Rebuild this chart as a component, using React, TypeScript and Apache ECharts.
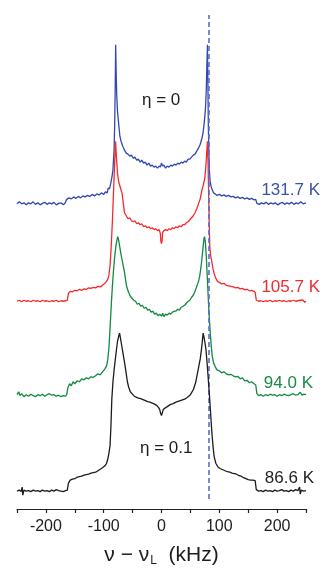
import React, { useEffect, useRef } from "react";
import * as echarts from "echarts";

// x in kHz, intensity relative to each trace's own baseline (arbitrary units)
const blueSpectrum: number[][] = [
[-250,0.0],[-246,0.2],[-242,0.0],[-238,0.1],[-234,-0.1],[-230,0.1],[-226,0.0],[-222,0.2],[-218,-0.05],[-214,0.1],[-210,-0.1],[-206,0.05],[-202,0.15],[-198,-0.05],[-194,0.1],[-190,0.0],[-186,0.15],[-182,-0.1],[-178,0.05],[-174,0.1],[-170,-0.1],[-167,0.05],[-164,0.45],[-160,0.6],[-156,0.5],[-152,0.7],[-148,0.55],[-144,0.75],[-140,0.6],[-136,0.8],[-132,0.7],[-128,0.85],[-124,0.75],[-120,0.95],[-116,0.8],[-112,1.0],[-108,0.9],[-104,1.1],[-100,0.95],[-97,1.2],[-94,1.1],[-92,1.6],[-90,1.5],[-88,2.0],[-86,2.6],[-84,3.4],[-82,5.5],[-81,8],[-80,12],[-79.3,16.0],[-78.5,13.5],[-77.5,11],[-76,9.2],[-74,8.0],[-72,6.8],[-70,6.3],[-67,5.8],[-64,5.4],[-61,5.1],[-58,5.0],[-55,4.8],[-52,4.9],[-49,4.6],[-46,4.7],[-43,4.4],[-40,4.5],[-37,4.2],[-34,4.4],[-31,4.1],[-28,4.2],[-25,3.9],[-22,4.1],[-19,3.8],[-16,3.9],[-13,3.7],[-10,3.8],[-7,3.6],[-4,3.8],[-2,3.7],[0,4.1],[2,3.8],[4,3.9],[7,3.6],[10,3.8],[13,3.7],[16,3.9],[19,3.8],[22,4.0],[25,3.9],[28,4.1],[31,4.0],[34,4.2],[37,4.1],[40,4.3],[43,4.2],[46,4.5],[49,4.5],[52,4.7],[55,4.9],[58,5.0],[61,5.3],[64,5.6],[67,6.0],[70,6.6],[72,7.2],[74,8.2],[76,9.5],[77.5,11.5],[78.5,14],[79.5,16.0],[80.3,12],[81,8],[82,5],[83,3.2],[84,2.3],[86,1.7],[88,1.4],[90,1.1],[93,1.0],[96,0.85],[100,0.95],[104,0.8],[108,0.9],[112,0.75],[116,0.85],[120,0.7],[124,0.75],[128,0.6],[132,0.7],[136,0.55],[140,0.65],[144,0.5],[148,0.6],[152,0.45],[156,0.55],[160,0.4],[163,0.45],[165,0.05],[169,-0.05],[173,0.1],[177,0.0],[181,0.15],[185,-0.05],[189,0.1],[193,0.0],[197,0.1],[201,-0.1],[205,0.05],[209,0.15],[213,-0.05],[217,0.1],[221,0.0],[225,0.15],[229,-0.05],[233,0.1],[237,0.0],[241,0.2],[245,0.0],[250,0.1]
];

const redSpectrum: number[][] = [
[-250,0],[-246,0.1],[-242,-0.05],[-238,0.1],[-234,0.0],[-230,0.05],[-226,-0.05],[-222,0.1],[-218,0.0],[-214,0.05],[-210,-0.05],[-206,0.1],[-202,0.0],[-198,0.05],[-194,-0.05],[-190,0.05],[-186,0.0],[-182,0.1],[-178,-0.05],[-174,0.05],[-170,0.0],[-166,0.05],[-163,0.1],[-161,0.8],[-158,1.0],[-154,0.95],[-150,1.1],[-146,1.05],[-142,1.2],[-138,1.1],[-134,1.25],[-130,1.2],[-126,1.35],[-122,1.3],[-118,1.4],[-114,1.35],[-110,1.5],[-106,1.45],[-102,1.6],[-98,1.8],[-95,2.0],[-93,2.2],[-91,2.6],[-89,3.6],[-87,5.5],[-85,8],[-83,11],[-81,14],[-79.5,16.1],[-78,14.5],[-76,12.8],[-74,12],[-72,11.6],[-70,11.2],[-68,10.8],[-66,9.8],[-64,8.9],[-61,8.6],[-58,8.3],[-55,8.4],[-52,8.1],[-49,8.0],[-46,8.1],[-43,7.8],[-40,7.9],[-37,7.7],[-34,7.8],[-31,7.5],[-28,7.6],[-25,7.4],[-22,7.5],[-19,7.3],[-16,7.4],[-13,7.2],[-10,7.3],[-7,7.1],[-4,7.2],[-2,6.8],[-1,6.0],[0,5.8],[1,6.1],[2,6.9],[4,7.1],[7,7.2],[10,7.1],[13,7.3],[16,7.2],[19,7.4],[22,7.3],[25,7.5],[28,7.4],[31,7.6],[34,7.5],[37,7.7],[40,7.7],[43,7.9],[46,8.0],[49,8.2],[52,8.4],[55,8.6],[58,8.9],[61,9.3],[64,9.8],[67,10.3],[70,11.2],[72,11.6],[75,12.4],[77,13.8],[78.5,15.2],[79.5,16.1],[80.5,14],[81.5,11],[82.5,8],[83.5,5.5],[85,4.6],[87,4.0],[89,3.3],[91,2.8],[94,2.3],[97,2.0],[100,1.9],[104,1.75],[108,1.8],[112,1.6],[116,1.55],[120,1.5],[124,1.45],[128,1.35],[132,1.4],[136,1.25],[140,1.3],[144,1.15],[148,1.2],[152,1.05],[156,1.1],[160,1.0],[162,0.9],[164,0.1],[168,0.0],[172,0.05],[176,-0.05],[180,0.05],[184,0.0],[188,0.1],[192,-0.05],[196,0.05],[200,0.0],[204,0.1],[208,0.0],[212,0.05],[216,-0.05],[220,0.05],[224,0.0],[228,0.1],[232,0.0],[236,0.05],[240,0.1],[244,0.15],[248,-0.1],[250,0.0]
];

const greenSpectrum: number[][] = [
[-250,0.1],[-247,0.4],[-245,0.0],[-242,0.2],[-238,-0.1],[-234,0.1],[-230,-0.05],[-226,0.15],[-222,0.0],[-218,-0.1],[-214,0.1],[-210,0.0],[-206,0.15],[-202,-0.05],[-198,0.1],[-194,0.2],[-190,0.05],[-186,0.1],[-182,-0.05],[-178,0.05],[-174,-0.1],[-170,0.0],[-166,-0.05],[-164,0.1],[-162,0.8],[-159,1.2],[-156,1.0],[-153,1.4],[-150,1.2],[-146,1.5],[-142,1.4],[-138,1.7],[-134,1.6],[-130,1.8],[-126,1.7],[-122,1.9],[-118,1.85],[-114,2.0],[-110,2.2],[-106,2.1],[-102,2.4],[-98,2.7],[-95,3.0],[-93,3.6],[-91,4.8],[-89,6.8],[-87,9.0],[-85,11.0],[-83,12.6],[-81,14.0],[-79,15.0],[-77,15.7],[-75.5,16.0],[-74,15.6],[-72,14.9],[-70,14.2],[-68,13.6],[-66,13.0],[-64,12.4],[-62,11.6],[-60,10.9],[-57,10.4],[-54,10.0],[-51,9.8],[-48,9.6],[-45,9.5],[-42,9.2],[-39,9.3],[-36,9.0],[-33,9.1],[-30,8.8],[-27,8.9],[-24,8.6],[-21,8.7],[-18,8.4],[-15,8.5],[-12,8.2],[-9,8.3],[-6,8.05],[-3,8.2],[0,8.0],[2,8.3],[4,7.95],[7,8.2],[10,8.1],[13,8.3],[16,8.2],[19,8.4],[22,8.5],[25,8.5],[28,8.7],[31,8.6],[34,8.9],[37,9.0],[40,9.1],[43,9.3],[46,9.5],[49,9.6],[52,9.9],[55,10.1],[58,10.5],[61,11.0],[64,11.5],[66,12.0],[68,12.8],[70,13.8],[72,15.0],[73.5,15.8],[74.5,16.0],[76,15.4],[77.5,14],[79,12.2],[80.5,10.3],[82,8.5],[84,6.6],[86,5.0],[88,3.9],[90,3.3],[93,2.9],[96,2.6],[100,2.5],[104,2.3],[108,2.4],[112,2.2],[116,2.1],[120,2.15],[124,2.0],[128,1.9],[132,1.95],[136,1.7],[140,1.8],[144,1.5],[148,1.55],[152,1.3],[156,1.4],[160,1.2],[163,1.1],[165,0.2],[168,0.0],[172,0.1],[176,-0.05],[180,0.1],[184,0.0],[188,0.15],[192,0.05],[196,0.1],[200,-0.05],[204,0.1],[208,0.0],[212,0.15],[216,0.05],[220,0.0],[224,0.1],[228,0.2],[232,0.05],[236,0.1],[240,0.35],[243,0.05],[246,0.15],[250,0.1]
];

const blackSpectrum: number[][] = [
[-250,0.0],[-246,0.1],[-243,-0.05],[-241,0.4],[-240,-0.4],[-238,0.1],[-234,0.0],[-230,0.05],[-226,-0.05],[-222,0.1],[-218,0.0],[-214,0.05],[-210,-0.05],[-206,0.1],[-202,0.0],[-198,0.05],[-194,-0.05],[-190,0.1],[-186,0.0],[-182,0.15],[-178,0.05],[-174,0.0],[-170,-0.05],[-166,0.05],[-163,0.1],[-161,0.8],[-158,1.1],[-154,1.2],[-150,1.25],[-146,1.4],[-142,1.45],[-138,1.5],[-134,1.6],[-130,1.65],[-126,1.7],[-122,1.8],[-118,1.85],[-114,1.9],[-110,2.05],[-106,2.2],[-102,2.35],[-98,2.55],[-95,2.8],[-93,3.2],[-91,3.8],[-89,4.6],[-87.5,6.5],[-86,9.2],[-84,11.0],[-82,12.2],[-80,13.2],[-78,14.2],[-76,15.1],[-74,15.6],[-72.5,15.9],[-71,15.4],[-69,14.7],[-67,14.0],[-65,13.3],[-63,12.6],[-61,11.8],[-59,11.0],[-57,10.5],[-54,10.0],[-51,9.8],[-48,9.6],[-44,9.45],[-40,9.35],[-36,9.3],[-32,9.2],[-28,9.1],[-24,9.0],[-20,8.95],[-16,8.85],[-12,8.75],[-8,8.6],[-5,8.4],[-3,8.2],[-1.5,7.8],[0,7.6],[1.5,7.9],[3,8.2],[6,8.35],[10,8.5],[15,8.7],[20,8.8],[25,8.95],[30,9.05],[35,9.15],[40,9.25],[45,9.45],[50,9.7],[55,10.2],[59,10.9],[62,11.8],[65,12.7],[67,13.3],[69,14.2],[70.5,15.0],[72,15.9],[73.5,15.5],[75,15.0],[77,14.2],[79,12.8],[81,11.2],[83,9.6],[85,7.8],[87,6.0],[89,4.6],[91,3.5],[94,2.8],[98,2.4],[102,2.25],[106,2.15],[110,2.05],[114,1.95],[118,1.9],[122,1.8],[126,1.75],[130,1.7],[134,1.55],[138,1.5],[142,1.35],[146,1.25],[150,1.15],[154,1.1],[158,1.1],[162,1.05],[164,0.15],[168,0.0],[172,0.05],[176,-0.05],[180,0.1],[184,0.0],[188,0.05],[192,-0.05],[196,0.1],[200,0.0],[204,0.05],[208,0.15],[212,0.0],[216,0.05],[220,-0.05],[224,0.1],[228,0.0],[232,0.15],[236,0.05],[239,0.4],[240,-0.3],[242,0.1],[246,0.0],[250,0.05]
];

const traceNames = ["131.7 K", "105.7 K", "94.0 K", "86.6 K"];
const traceOffsets = [30.7, 20.9, 11.4, 1.8];
const traceColors = ["#3348ad", "#f42a2a", "#11893f", "#1c1c1c"];
const labelColors = ["#3a52a6", "#ee2b2b", "#1b8a47", "#222222"];
const xTickValues = [-200, -100, 0, 100, 200];
const dashedLineX = 82;
const dashedLineRange = [1.0, 49.7];
const etaLabels = ["η = 0", "η = 0.1"];

const spectra = [blueSpectrum, redSpectrum, greenSpectrum, blackSpectrum];

export default function App() {
  const ref = useRef<HTMLDivElement>(null);
  useEffect(() => {
    if (!ref.current) return;
    const chart = echarts.init(ref.current, null, { renderer: "svg" });
    const font = "'Liberation Sans', Arial, sans-serif";
    const series: any[] = spectra.map((s, i) => ({
      type: "line",
      name: traceNames[i],
      data: s.map((p) => [p[0], p[1] + traceOffsets[i]]),
      showSymbol: false,
      symbol: "none",
      lineStyle: { color: traceColors[i], width: 1.3 },
      z: 2 + i,
    }));
    series.push({
      type: "line",
      data: [],
      z: 10,
      markLine: {
        silent: true,
        symbol: "none",
        label: { show: false },
        lineStyle: { color: "#5b6cd2", type: [5, 3], width: 1.6 },
        data: [[{ coord: [dashedLineX, dashedLineRange[0]] }, { coord: [dashedLineX, dashedLineRange[1]] }]],
      },
    });
    chart.setOption({
      animation: false,
      grid: { left: 17, right: 17, top: 12, bottom: 58 },
      xAxis: {
        type: "value",
        min: -250,
        max: 250,
        interval: 50,
        axisLine: { lineStyle: { color: "#222", width: 1.2 } },
        axisTick: { length: 4, lineStyle: { color: "#222", width: 1.2 } },
        splitLine: { show: false },
        axisLabel: {
          color: "#1c1c1c",
          fontSize: 16,
          fontFamily: font,
          margin: 8,
          formatter: (v: number) => (xTickValues.indexOf(v) >= 0 ? String(v) : ""),
        },
        name: "{a|ν − ν}{s|L}{a|  (kHz)}",
        nameLocation: "middle",
        nameGap: 32,
        nameTextStyle: {
          fontFamily: font,
          color: "#1c1c1c",
          rich: {
            a: { fontSize: 21, fontFamily: font, color: "#1c1c1c", lineHeight: 24 },
            s: { fontSize: 12, fontFamily: font, color: "#1c1c1c", padding: [14, 0, 0, 1], lineHeight: 24 },
          },
        },
      },
      yAxis: { type: "value", min: 0, max: 50, show: false },
      series,
      graphic: [
        ...traceNames.map((t, i) => ({
          type: "text",
          right: [3, 3, 10, 9][i],
          top: [181, 278, 374, 469][i],
          style: { text: t, fill: labelColors[i], font: `17px ${font}` },
        })),
        { type: "text", left: 142, top: 91, style: { text: etaLabels[0], fill: "#1c1c1c", font: `17px ${font}` } },
        { type: "text", left: 140, top: 439, style: { text: etaLabels[1], fill: "#1c1c1c", font: `17px ${font}` } },
      ],
    });
    return () => chart.dispose();
  }, []);
  return <div ref={ref} style={{ position: "fixed", left: 0, top: 0, width: 323, height: 571 }} />;
}
